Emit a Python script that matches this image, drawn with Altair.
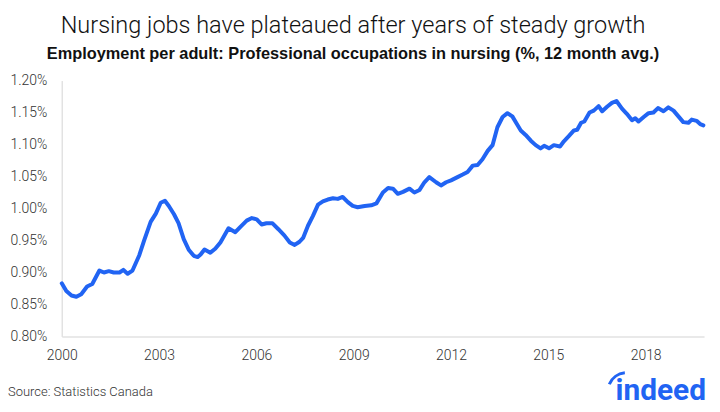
import altair as alt
import pandas as pd

years = [2000.0, 2000.14, 2000.3, 2000.45, 2000.6, 2000.78, 2000.94, 2001.16, 2001.3, 2001.45,
         2001.6, 2001.78, 2001.9, 2002.03, 2002.18, 2002.39, 2002.54, 2002.74, 2002.9, 2003.05,
         2003.18, 2003.3, 2003.46, 2003.6, 2003.76, 2003.92, 2004.07, 2004.19, 2004.28, 2004.4,
         2004.58, 2004.73, 2004.89, 2005.14, 2005.35, 2005.5, 2005.7, 2005.86, 2006.01, 2006.16,
         2006.31, 2006.49, 2006.67, 2006.86, 2007.03, 2007.18, 2007.33, 2007.44, 2007.59, 2007.74,
         2007.9, 2008.05, 2008.2, 2008.36, 2008.51, 2008.66, 2008.82, 2008.97, 2009.12, 2009.34,
         2009.54, 2009.7, 2009.9, 2010.06, 2010.21, 2010.36, 2010.52, 2010.72, 2010.87, 2011.03,
         2011.18, 2011.33, 2011.54, 2011.69, 2011.85, 2012.0, 2012.2, 2012.36, 2012.51, 2012.67,
         2012.82, 2012.97, 2013.13, 2013.28, 2013.43, 2013.59, 2013.74, 2013.89, 2014.03, 2014.15,
         2014.3, 2014.46, 2014.61, 2014.76, 2014.87, 2015.02, 2015.17, 2015.36, 2015.48, 2015.63,
         2015.79, 2015.89, 2016.01, 2016.11, 2016.27, 2016.4, 2016.55, 2016.66, 2016.81, 2016.96,
         2017.1, 2017.27, 2017.42, 2017.58, 2017.68, 2017.78, 2017.94, 2018.09, 2018.24, 2018.38,
         2018.55, 2018.7, 2018.86, 2019.01, 2019.16, 2019.32, 2019.42, 2019.57, 2019.68, 2019.78]

values = [0.883, 0.871, 0.864, 0.862, 0.866, 0.878, 0.882, 0.903, 0.900, 0.902,
          0.900, 0.900, 0.904, 0.898, 0.903, 0.927, 0.950, 0.979, 0.992, 1.009,
          1.012, 1.004, 0.991, 0.977, 0.952, 0.935, 0.926, 0.924, 0.928, 0.936,
          0.931, 0.937, 0.947, 0.969, 0.963, 0.971, 0.981, 0.985, 0.983, 0.975,
          0.977, 0.977, 0.968, 0.958, 0.947, 0.943, 0.948, 0.954, 0.973, 0.988,
          1.006, 1.011, 1.014, 1.016, 1.015, 1.018, 1.010, 1.004, 1.002, 1.004,
          1.005, 1.008, 1.025, 1.032, 1.031, 1.023, 1.026, 1.031, 1.025, 1.029,
          1.041, 1.049, 1.041, 1.036, 1.041, 1.044, 1.049, 1.053, 1.057, 1.067,
          1.068, 1.077, 1.090, 1.099, 1.127, 1.143, 1.149, 1.144, 1.132, 1.122,
          1.115, 1.106, 1.099, 1.094, 1.098, 1.094, 1.099, 1.097, 1.105, 1.113,
          1.122, 1.123, 1.134, 1.136, 1.150, 1.153, 1.160, 1.152, 1.159, 1.165,
          1.168, 1.156, 1.148, 1.138, 1.141, 1.136, 1.143, 1.149, 1.150, 1.157,
          1.152, 1.158, 1.153, 1.144, 1.135, 1.134, 1.139, 1.137, 1.132, 1.130]

x_ticks = [2000, 2003, 2006, 2009, 2012, 2015, 2018]
y_ticks = [0.80, 0.85, 0.90, 0.95, 1.00, 1.05, 1.10, 1.15, 1.20]

title_text = "Nursing jobs have plateaued after years of steady growth"
subtitle_text = "Employment per adult: Professional occupations in nursing (%, 12 month avg.)"
source_text = "Source: Statistics Canada"
logo_text = "indeed"

BLUE = "#2164f3"
FONT = "Roboto"

df = pd.DataFrame({"year": years, "value": values})

line = alt.Chart(df).mark_line(color=BLUE, strokeWidth=4, strokeCap="round", strokeJoin="round").encode(
    x=alt.X("year:Q", scale=alt.Scale(domain=[2000, 2019.8], nice=False, zero=False),
            axis=alt.Axis(values=x_ticks, format="d", title=None, grid=False, ticks=False,
                          labelFlush=False, labelOverlap=False,
                          domainColor="#e2e2e2", domainWidth=1.5, labelPadding=12,
                          labelFontSize=14, labelColor="#333333", labelFont=FONT,
                          labelFontWeight=300)),
    y=alt.Y("value:Q", scale=alt.Scale(domain=[0.8, 1.2], nice=False, zero=False),
            axis=alt.Axis(values=y_ticks, labelExpr="format(datum.value, '.2f') + '%'",
                          title=None, grid=False, ticks=False, domainColor="#e2e2e2",
                          labelFlush=False, labelOverlap=False,
                          domainWidth=1.5, labelPadding=15, labelFontSize=14,
                          labelColor="#333333", labelFont=FONT, labelFontWeight=300)),
)

source = alt.Chart(pd.DataFrame({"t": [source_text]})).mark_text(
    align="left", baseline="alphabetic", fontSize=13, font=FONT, fontWeight=300, color="#333333"
).encode(text="t:N", x=alt.value(-54), y=alt.value(317))

logo = alt.Chart(pd.DataFrame({"t": [logo_text]})).mark_text(
    align="right", baseline="alphabetic", fontSize=30, font=FONT, fontWeight="bold", color=BLUE
).encode(text="t:N", x=alt.value(647), y=alt.value(321))

swoosh = alt.Chart(pd.DataFrame({"t": [1]})).mark_arc(
    color=BLUE, innerRadius=17, outerRadius=20
).encode(x=alt.value(567), y=alt.value(312), theta=alt.value(5.1), theta2=alt.value(6.2))

chart = alt.layer(line, source, logo, swoosh).properties(
    width=645, height=257,
    autosize=alt.AutoSizeParams(type="none"),
    padding={"left": 54, "top": 72, "right": 8, "bottom": 67},
    title=alt.TitleParams(
        text=title_text, subtitle=subtitle_text, anchor="middle", frame="bounds",
        font=FONT, fontSize=23.6, fontWeight=300, color="#111111",
        subtitleFont="Liberation Sans", subtitleFontSize=16.4, subtitleFontWeight="bold",
        subtitleColor="#111111", subtitlePadding=9, offset=11, dx=-4,
    ),
).configure_view(stroke=None)

chart.save("out.html", embed_options={"renderer": "svg", "actions": False})
